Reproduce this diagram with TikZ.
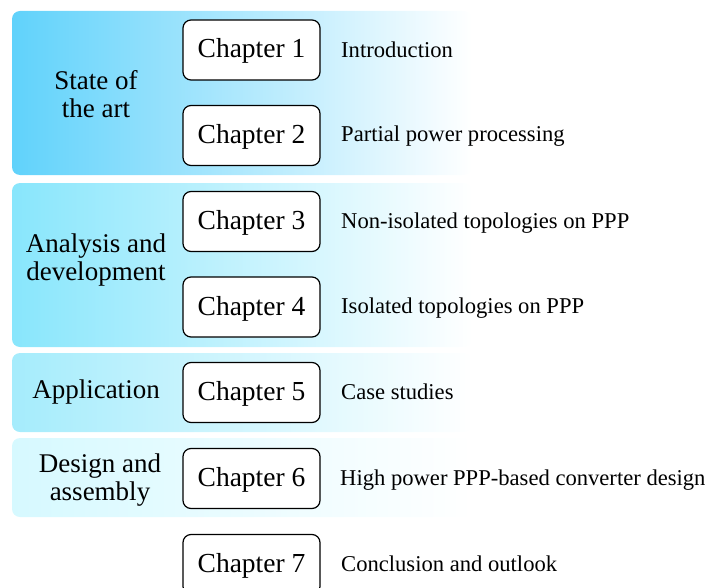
\documentclass[tikz,border=0pt]{standalone}
\usepackage{fontspec}
\setmainfont{Liberation Serif}
\definecolor{bandA}{RGB}{96,210,251}
\definecolor{bandB}{RGB}{136,230,252}
\definecolor{bandC}{RGB}{165,236,252}
\definecolor{bandD}{RGB}{214,249,255}
\tikzset{
  chapbox/.style={draw, fill=white, rounded corners=8pt, line width=1.2pt,
    minimum width=137pt, minimum height=60pt, inner sep=0pt,
    text height=20pt, text depth=4pt,
    font=\fontsize{27.5}{28}\selectfont},
  grouplabel/.style={align=center, inner sep=0pt, font=\fontsize{27}{28}\selectfont},
  desc/.style={anchor=base west, inner sep=0pt, font=\fontsize{22.6}{24}\selectfont},
  band/.style={rounded corners=8pt, right color=white}
}
\begin{document}
\begin{tikzpicture}[x=1pt,y=-1pt]
        \useasboundingbox (0,0) rectangle (711,588);
        \shade[band, left color=bandA] (12,11) rectangle (472,175);
        \shade[band, left color=bandB] (12,183) rectangle (472,347);
        \shade[band, left color=bandC] (12,353) rectangle (472,432);
        \shade[band, left color=bandD] (12,438) rectangle (472,517);
        \node[grouplabel] (g1) at (96,94) {State of\\the art};
        \node[grouplabel] (g2) at (96,260) {Analysis and\\development};
        \node[grouplabel] (g3) at (96,392) {Application};
        \node[grouplabel] (g4) at (100,480) {Design and\\assembly};
        \node[chapbox] (ch1) at (251.5,50) {Chapter 1};
        \node[chapbox] (ch2) at (251.5,135.5) {Chapter 2};
        \node[chapbox] (ch3) at (251.5,221.5) {Chapter 3};
        \node[chapbox] (ch4) at (251.5,307) {Chapter 4};
        \node[chapbox] (ch5) at (251.5,392.5) {Chapter 5};
        \node[chapbox] (ch6) at (251.5,478.5) {Chapter 6};
        \node[chapbox] (ch7) at (251.5,564.5) {Chapter 7};
        \node[desc] (d1) at (341,58) {Introduction};
        \node[desc] (d2) at (341,142) {Partial power processing};
        \node[desc] (d3) at (341,228) {Non-isolated topologies on PPP};
        \node[desc] (d4) at (341,313) {Isolated topologies on PPP};
        \node[desc] (d5) at (341,399) {Case studies};
        \node[desc] (d6) at (340,485) {High power PPP-based converter design};
        \node[desc] (d7) at (341,571) {Conclusion and outlook};
      \end{tikzpicture}
\end{document}
